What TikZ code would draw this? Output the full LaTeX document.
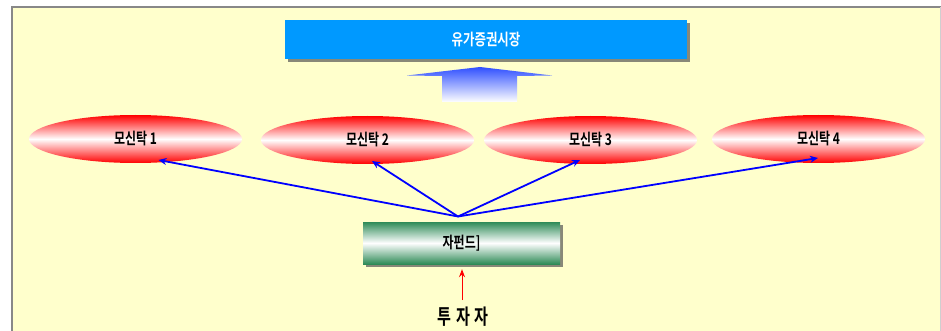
\documentclass[tikz,border=0pt]{standalone}
\usepackage{fontspec}
\usepackage{graphicx}
\newfontfamily\kr{Noto Sans CJK KR}[BoldFont={Noto Sans CJK KR Bold}]
\usetikzlibrary{shapes.geometric,arrows.meta,calc}
\definecolor{panel}{HTML}{FFFFCC}
\definecolor{frame}{HTML}{888888}
\definecolor{mktblue}{HTML}{0099FF}
\definecolor{shadowc}{HTML}{888878}
\definecolor{fundgreen}{HTML}{2E8B57}
\definecolor{arrowblue}{HTML}{3050FF}
\newcommand{\narrow}[2][0.75]{\scalebox{#1}[1]{#2}}
\tikzset{
  trust/.style={ellipse, minimum width=213pt, minimum height=48pt, inner sep=0pt,
    top color=red, bottom color=red, middle color=white, font=\kr\bfseries\fontsize{16}{18}\selectfont},
  link/.style={draw=blue, line width=1.8pt, -{Stealth[length=8pt,width=7pt]}},
  boxshadow/.style={fill=shadowc, draw=none},
}
\begin{document}
\begin{tikzpicture}[x=1pt,y=-1pt]
\useasboundingbox (0,0) rectangle (941,331);
% panel
\fill[white] (0,0) rectangle (941,331);
\fill[panel] (11,6) rectangle (941,331);
\draw[frame, line width=2.5pt] (12.2,331) -- (12.2,7.2) -- (941,7.2);
\draw[frame!40, line width=0.8pt] (940.5,7) -- (940.5,331);
% market box
\fill[boxshadow] (288,23) rectangle (690,62);
\node[fill=mktblue, minimum width=402pt, minimum height=39pt, inner sep=0pt,
  text=white, font=\kr\bfseries\fontsize{16}{18}\selectfont] (mkt) at (486,39.5) {\narrow[0.78]{유가증권시장}};
% block arrow
\shade[top color=arrowblue, bottom color=white]
  (480,67) -- (552,75.5) -- (517,76) -- (517,102) -- (442,102) -- (442,76) -- (407,75.5) -- cycle;
% trusts
\node[trust] (e1) at (135.5,139) {\narrow{모신탁 1}};
\node[trust] (e2) at (367.5,140) {\narrow{모신탁 2}};
\node[trust] (e3) at (590.5,140) {\narrow{모신탁 3}};
\node[trust] (e4) at (818.5,139) {\narrow{모신탁 4}};
% fund box
\fill[boxshadow] (366,225) rectangle (563,267);
\node[minimum width=197pt, minimum height=42pt, inner sep=0pt,
  top color=fundgreen, bottom color=fundgreen, middle color=white,
  font=\kr\bfseries\fontsize{16}{18}\selectfont] (fund) at (461.5,243) {\narrow{자펀드]}};
% investors
\node[font=\kr\bfseries\fontsize{21}{24}\selectfont, inner sep=0pt] (inv) at (463,317) {\narrow[0.72]{투\hspace{6pt}자\hspace{6pt}자}};
% connectors
\coordinate (hub) at (458,216.5);
\draw[link] (hub) -- ($(e1.center)+(23,21)$);
\draw[link] (hub) -- ($(e2.center)+(4.5,21)$);
\draw[link] (hub) -- ($(e3.center)+(-10.5,20)$);
\draw[link] (hub) -- ($(e4.center)+(-0.5,19)$);
\coordinate (rtail) at (462,300);
\draw[red, line width=1pt, -{Stealth[length=8pt,width=6pt]}] (rtail) -- ($(fund.south -| rtail)+(0,5)$);
\end{tikzpicture}
\end{document}
